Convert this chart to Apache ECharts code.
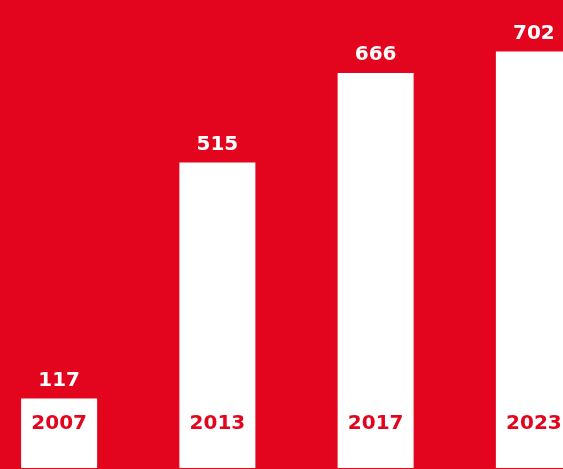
<!DOCTYPE html>
<html><head><meta charset="utf-8">
<script src="https://cdn.jsdelivr.net/npm/echarts@6/dist/echarts.min.js"></script>
<style>html,body{margin:0;padding:0;background:#E3051D;}#c{width:563px;height:469px;}</style>
</head><body><div id="c"></div>
<script>
const years = ['2007', '2013', '2017', '2023'];
const values = [117, 515, 666, 702];

const red = '#E3051D';
const chart = echarts.init(document.getElementById('c'), null, {renderer: 'canvas'});
chart.setOption({
  backgroundColor: red,
  animation: false,
  grid: {left: -20, top: 0, width: 633, height: 468, outerBoundsMode: 'none', containLabel: false},
  xAxis: {
    type: 'category',
    data: years,
    z: 10,
    axisLine: {show: false},
    axisTick: {show: false},
    axisLabel: {
      inside: true,
      margin: 34,
      color: red,
      fontFamily: 'DejaVu Sans',
      fontWeight: 'bold',
      fontSize: 20
    }
  },
  yAxis: {
    type: 'value', min: 0, max: 789,
    show: false, splitLine: {show: false}
  },
  series: [{
    type: 'bar',
    data: values,
    barWidth: 76,
    itemStyle: {color: '#ffffff'},
    z: 1,
    label: {
      show: true,
      position: 'top',
      distance: 8,
      color: '#ffffff',
      fontFamily: 'DejaVu Sans',
      fontWeight: 'bold',
      fontSize: 20
    }
  }]
});
</script></body></html>
